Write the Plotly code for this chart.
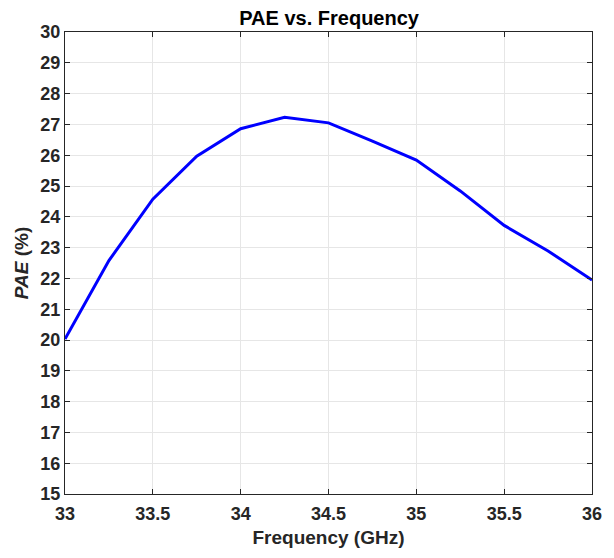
import plotly.graph_objects as go

freq_ghz = [33.0, 33.25, 33.5, 33.75, 34.0, 34.25, 34.5, 34.75, 35.0, 35.25, 35.5, 35.75, 36.0]
pae_pct = [20.03, 22.58, 24.57, 25.97, 26.86, 27.23, 27.05, 26.46, 25.84, 24.84, 23.72, 22.89, 21.95]

x_ticks = [33, 33.5, 34, 34.5, 35, 35.5, 36]
x_tick_labels = ["33", "33.5", "34", "34.5", "35", "35.5", "36"]
y_ticks = list(range(15, 31))

font_family = "Liberation Sans, Arial, Helvetica, sans-serif"
txt = "#262626"

fig = go.Figure()
fig.add_trace(go.Scatter(x=freq_ghz, y=pae_pct, mode="lines",
                         line=dict(color="#0000FF", width=3), showlegend=False))

axis_common = dict(
    showline=True, linecolor=txt, linewidth=1, mirror="ticks",
    ticks="inside", ticklen=5, tickcolor=txt, tickwidth=1,
    showgrid=True, gridcolor="#E6E6E6", gridwidth=1, zeroline=False,
    tickfont=dict(family=font_family, size=18, color=txt),
)

fig.update_layout(
    width=614, height=558,
    margin=dict(l=65, r=20, t=32, b=64),
    paper_bgcolor="white", plot_bgcolor="white",
    font=dict(family=font_family, color=txt),
    title=dict(text="<b>PAE vs. Frequency</b>", x=0.536, xanchor="center",
               y=0.968, yanchor="middle",
               font=dict(family=font_family, size=20, color="black")),
    xaxis=dict(range=[33, 36], tickvals=x_ticks, ticktext=[f"<b>{t}</b>" for t in x_tick_labels],
               ticklabelstandoff=3,
               title=dict(text="<b>Frequency (GHz)</b>", standoff=8,
                          font=dict(family=font_family, size=19, color=txt)),
               **axis_common),
    yaxis=dict(range=[15, 30], tickvals=y_ticks, ticktext=[f"<b>{t}</b>" for t in y_ticks],
               title=dict(text="<b><i>PAE</i> (%)</b>", standoff=6,
                          font=dict(family=font_family, size=19, color=txt)),
               **axis_common),
)

fig.write_html("out.html")
